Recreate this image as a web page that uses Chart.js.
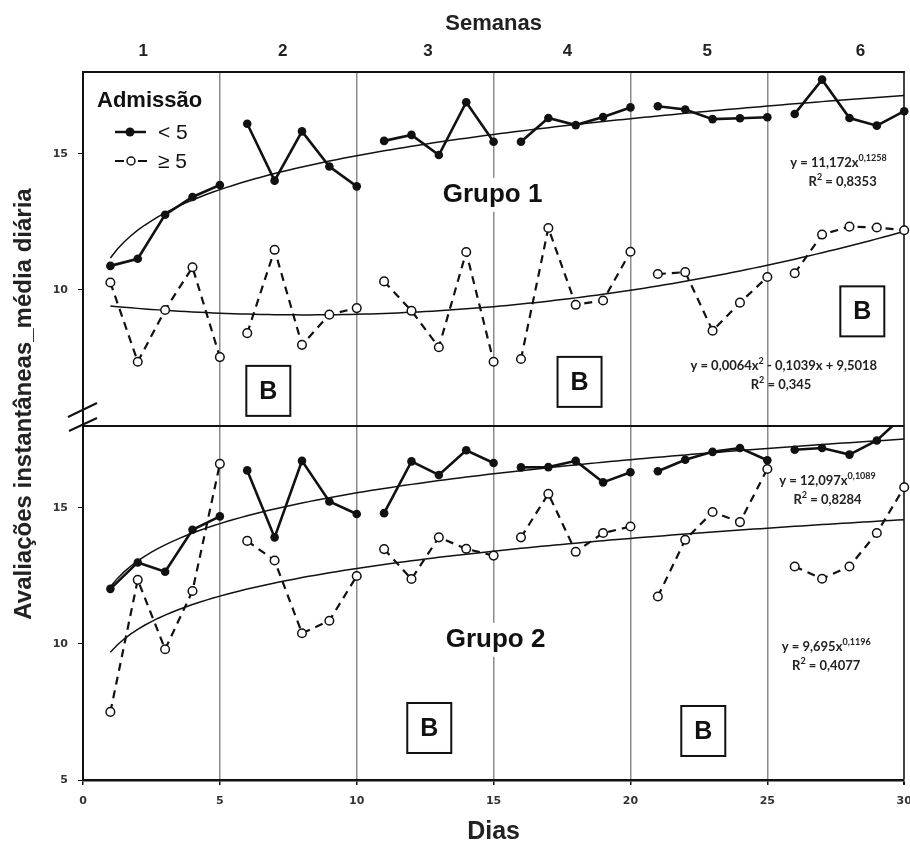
<!DOCTYPE html>
<html lang="pt">
<head>
<meta charset="utf-8">
<title>Avaliações instantâneas</title>
<script src="https://cdn.jsdelivr.net/npm/chart.js@4.4.1/dist/chart.umd.min.js"></script>
<style>
  html, body { margin: 0; padding: 0; background: #fff; }
  #wrap { position: relative; width: 910px; height: 851px; }
</style>
</head>
<body>
<div id="wrap"><canvas id="avaliacoesChart" width="910" height="851"></canvas></div>
<script>
// dias de internamento
const dias = [1, 2, 3, 4, 5, 6, 7, 8, 9, 10, 11, 12, 13, 14, 15,
              16, 17, 18, 19, 20, 21, 22, 23, 24, 25, 26, 27, 28, 29, 30];

// Grupo 1 - média diária por admissão
const g1Menor5 = [10.88, 11.14, 12.76, 13.41, 13.85, 16.10, 14.01, 15.82, 14.53, 13.80,
                  15.47, 15.69, 14.95, 16.89, 15.44, 15.44, 16.31, 16.05, 16.35, 16.70,
                  16.74, 16.62, 16.27, 16.30, 16.34, 16.46, 17.72, 16.31, 16.03, 16.56];
const g1Maior5 = [10.27, 7.36, 9.26, 10.83, 7.53, 8.41, 11.47, 7.98, 9.09, 9.33,
                  10.31, 9.23, 7.89, 11.39, 7.36, 7.46, 12.27, 9.45, 9.61, 11.40,
                  10.58, 10.65, 8.50, 9.53, 10.47, 10.61, 12.03, 12.32, 12.29, 12.19];

// Grupo 2 - média diária por admissão
const g2Menor5 = [12.02, 12.99, 12.65, 14.19, 14.68, 16.37, 13.91, 16.72, 15.23, 14.77,
                  14.80, 16.70, 16.20, 17.11, 16.64, 16.48, 16.49, 16.72, 15.93, 16.30,
                  16.34, 16.76, 17.05, 17.19, 16.74, 17.13, 17.19, 16.95, 17.47, 18.40];
const g2Maior5 = [7.50, 12.35, 9.80, 11.94, 16.61, 13.78, 13.06, 10.39, 10.85, 12.49,
                  13.48, 12.38, 13.91, 13.49, 13.24, 13.91, 15.51, 13.38, 14.07, 14.31,
                  11.74, 13.82, 14.84, 14.47, 16.42, 12.84, 12.39, 12.84, 14.07, 15.75];

// linhas de tendência (potência: a*x^b, polinomial: a*x^2 + b*x + c)
const ajusteG1Menor5 = [11.172, 0.1258];
const ajusteG1Maior5 = [0.0064, -0.1039, 9.5018];
const ajusteG2Menor5 = [12.097, 0.1089];
const ajusteG2Maior5 = [9.695, 0.1196];
const r2 = [0.8353, 0.345, 0.8284, 0.4077];

// eixos
const semanas = ['1', '2', '3', '4', '5', '6'];
const semanasPos = [2.2, 7.3, 12.6, 17.7, 22.8, 28.4];
const ticksPainelTopo = [10, 15];
const ticksPainelBase = [5, 10, 15];

const ink = '#111';
const tickFont = { family: 'DejaVu Sans', weight: 'bold', size: 11 };
const sans = 'Liberation Sans, Arial, sans-serif';

const fmt = v => String(v).replace('.', ',');

function curvaPotencia(c) {
  const pts = [];
  for (let x = 1; x <= 30.001; x += 0.25) pts.push({ x: x, y: c[0] * Math.pow(x, c[1]) });
  return pts;
}
function curvaQuadratica(c) {
  const pts = [];
  for (let x = 1; x <= 30.001; x += 0.25) pts.push({ x: x, y: c[0] * x * x + c[1] * x + c[2] });
  return pts;
}

// sem ligação entre semanas (dia 5 -> 6, 10 -> 11, ...)
const quebraSemana = ctx => ctx.p0.parsed.x % 5 === 0 ? 'rgba(0,0,0,0)' : undefined;

function serie(valores, eixo, aberto) {
  return {
    data: valores.map((v, i) => ({ x: dias[i], y: v })),
    xAxisID: 'x',
    yAxisID: eixo,
    borderColor: ink,
    borderWidth: aberto ? 2.2 : 2.6,
    borderDash: aberto ? [8, 6] : [],
    pointRadius: 4.3,
    pointHoverRadius: 4.3,
    pointBackgroundColor: aberto ? '#fff' : ink,
    pointBorderColor: ink,
    pointBorderWidth: aberto ? 1.5 : 0,
    tension: 0,
    clip: false,
    segment: { borderColor: quebraSemana }
  };
}

function tendencia(pontos, eixo) {
  return {
    data: pontos,
    xAxisID: 'x',
    yAxisID: eixo,
    borderColor: ink,
    borderWidth: 1.5,
    pointRadius: 0,
    tension: 0,
    clip: false
  };
}

// recorta cada série ao seu painel
const recortePainel = {
  id: 'recortePainel',
  beforeDatasetDraw(chart, args) {
    const ys = args.meta.yScale;
    const a = chart.chartArea;
    chart.ctx.save();
    chart.ctx.beginPath();
    chart.ctx.rect(a.left - 10, ys.top, a.right - a.left + 20, ys.bottom - ys.top);
    chart.ctx.clip();
  },
  afterDatasetDraw(chart) {
    chart.ctx.restore();
  }
};

function textoEq(ctx, partes, cx, cy) {
  let w = 0;
  partes.forEach(p => {
    ctx.font = (p.sup ? 'bold 9px ' : 'bold 13px ') + 'Lato, sans-serif';
    p.w = ctx.measureText(p.t).width;
    w += p.w;
  });
  let x = cx - w / 2;
  ctx.textAlign = 'left';
  ctx.textBaseline = 'middle';
  partes.forEach(p => {
    ctx.font = (p.sup ? 'bold 9px ' : 'bold 13px ') + 'Lato, sans-serif';
    ctx.fillText(p.t, x, p.sup ? cy - 5 : cy);
    x += p.w;
  });
}

function caixaB(ctx, cx, cy) {
  ctx.fillStyle = '#fff';
  ctx.fillRect(cx - 22, cy - 25, 44, 50);
  ctx.strokeStyle = ink;
  ctx.lineWidth = 2;
  ctx.strokeRect(cx - 22, cy - 25, 44, 50);
  ctx.fillStyle = ink;
  ctx.font = 'bold 25px ' + sans;
  ctx.textAlign = 'center';
  ctx.textBaseline = 'middle';
  ctx.fillText('B', cx, cy + 1);
}

const anotacoes = {
  id: 'anotacoes',
  beforeDatasetsDraw(chart) {
    const { ctx, scales } = chart;
    const x = scales.x, yt = scales.yTopo, yb = scales.yBase;
    ctx.save();
    // divisão entre os painéis
    ctx.strokeStyle = ink;
    ctx.lineWidth = 2;
    ctx.beginPath();
    ctx.moveTo(chart.chartArea.left, yb.top);
    ctx.lineTo(chart.chartArea.right, yb.top);
    ctx.stroke();

    ctx.font = 'bold 26px ' + sans;
    ctx.textAlign = 'center';
    ctx.textBaseline = 'middle';
    [['Grupo 1', x.getPixelForValue(14.96), yt.getPixelForValue(13.49)],
     ['Grupo 2', x.getPixelForValue(15.07), yb.getPixelForValue(10.15)]].forEach(g => {
      const w = ctx.measureText(g[0]).width;
      ctx.fillStyle = '#fff';
      ctx.fillRect(g[1] - w / 2 - 3, g[2] - 17, w + 6, 34);
      ctx.fillStyle = ink;
      ctx.fillText(g[0], g[1], g[2]);
    });
    ctx.restore();
  },
  afterDraw(chart) {
    const { ctx, scales } = chart;
    const x = scales.x, yt = scales.yTopo, yb = scales.yBase;
    const a = chart.chartArea;
    ctx.save();

    // título do eixo y, centrado nos dois painéis
    ctx.translate(24, 404);
    ctx.rotate(-Math.PI / 2);
    ctx.font = 'bold 24px ' + sans;
    ctx.fillStyle = '#222';
    ctx.textAlign = 'center';
    ctx.textBaseline = 'middle';
    ctx.fillText('Avaliações instantâneas_média diária', 0, 0);
    ctx.setTransform(1, 0, 0, 1, 0, 0);

    // marca de quebra do eixo
    ctx.strokeStyle = ink;
    ctx.lineWidth = 2;
    ctx.beginPath();
    ctx.moveTo(a.left - 15, yb.top - 9); ctx.lineTo(a.left + 14, yb.top - 23);
    ctx.moveTo(a.left - 14, yb.top + 5); ctx.lineTo(a.left + 14, yb.top - 8);
    ctx.stroke();

    // legenda
    ctx.fillStyle = ink;
    ctx.font = 'bold 22px ' + sans;
    ctx.textAlign = 'left';
    ctx.textBaseline = 'middle';
    ctx.fillText('Admissão', 97, 101);
    ctx.lineWidth = 2.5;
    ctx.beginPath(); ctx.moveTo(115, 132); ctx.lineTo(146, 132); ctx.stroke();
    ctx.beginPath(); ctx.arc(130, 132, 4.5, 0, Math.PI * 2); ctx.fill();
    ctx.lineWidth = 2;
    ctx.beginPath();
    ctx.moveTo(115, 161); ctx.lineTo(124, 161);
    ctx.moveTo(138, 161); ctx.lineTo(147, 161);
    ctx.stroke();
    ctx.fillStyle = '#fff';
    ctx.lineWidth = 1.5;
    ctx.beginPath(); ctx.arc(131, 161, 4, 0, Math.PI * 2); ctx.fill(); ctx.stroke();
    ctx.fillStyle = ink;
    ctx.font = '21px ' + sans;
    ctx.fillText('< 5', 158, 133);
    ctx.fillText('\u2265 5', 158, 162);

    // caixas B
    caixaB(ctx, x.getPixelForValue(6.77), yt.getPixelForValue(6.29));
    caixaB(ctx, x.getPixelForValue(18.14), yt.getPixelForValue(6.62));
    caixaB(ctx, x.getPixelForValue(28.47), yt.getPixelForValue(9.21));
    caixaB(ctx, x.getPixelForValue(12.65), yb.getPixelForValue(6.91));
    caixaB(ctx, x.getPixelForValue(22.66), yb.getPixelForValue(6.80));

    // equações das linhas de tendência
    ctx.fillStyle = '#222';
    const pot = c => [{ t: 'y = ' + fmt(c[0]) + 'x' }, { t: fmt(c[1]), sup: true }];
    const rq = v => [{ t: 'R' }, { t: '2', sup: true }, { t: ' = ' + fmt(v) }];
    textoEq(ctx, pot(ajusteG1Menor5), x.getPixelForValue(27.6), yt.getPixelForValue(14.67));
    textoEq(ctx, rq(r2[0]), x.getPixelForValue(27.75), yt.getPixelForValue(13.97));
    textoEq(ctx, [{ t: 'y = ' + fmt(ajusteG1Maior5[0]) + 'x' }, { t: '2', sup: true },
                  { t: ' - ' + fmt(Math.abs(ajusteG1Maior5[1])) + 'x + ' + fmt(ajusteG1Maior5[2]) }],
            x.getPixelForValue(25.6), yt.getPixelForValue(7.21));
    textoEq(ctx, rq(r2[1]), x.getPixelForValue(25.5), yt.getPixelForValue(6.51));
    textoEq(ctx, pot(ajusteG2Menor5), x.getPixelForValue(27.2), yb.getPixelForValue(15.99));
    textoEq(ctx, rq(r2[2]), x.getPixelForValue(27.2), yb.getPixelForValue(15.29));
    textoEq(ctx, pot(ajusteG2Maior5), x.getPixelForValue(27.15), yb.getPixelForValue(9.89));
    textoEq(ctx, rq(r2[3]), x.getPixelForValue(27.15), yb.getPixelForValue(9.19));

    ctx.restore();
  }
};

const ctx = document.getElementById('avaliacoesChart').getContext('2d');
new Chart(ctx, {
  type: 'line',
  data: {
    datasets: [
      serie(g1Menor5, 'yTopo', false),
      serie(g1Maior5, 'yTopo', true),
      serie(g2Menor5, 'yBase', false),
      serie(g2Maior5, 'yBase', true),
      tendencia(curvaPotencia(ajusteG1Menor5), 'yTopo'),
      tendencia(curvaQuadratica(ajusteG1Maior5), 'yTopo'),
      tendencia(curvaPotencia(ajusteG2Menor5), 'yBase'),
      tendencia(curvaPotencia(ajusteG2Maior5), 'yBase')
    ]
  },
  options: {
    responsive: false,
    animation: false,
    events: [],
    layout: { padding: { left: 0, right: 5, top: 0, bottom: 0 } },
    plugins: { legend: { display: false }, tooltip: { enabled: false } },
    scales: {
      x: {
        type: 'linear',
        position: 'bottom',
        min: 0,
        max: 30,
        // o rótulo "30" pode encostar na borda do canvas
        afterFit: s => { s.height = 71; s.paddingRight = 0; s.paddingLeft = 0; },
        ticks: { stepSize: 5, font: tickFont, color: '#333', padding: 10 },
        grid: {
          color: c => c.tick.value === 0 ? 'rgba(0,0,0,0)' : (c.tick.value === 30 ? '#444' : '#8c8c8c'),
          lineWidth: c => c.tick.value === 30 ? 2 : 1.5,
          tickColor: ink,
          tickLength: 5
        },
        border: { color: ink, width: 2.5 },
        title: {
          display: true,
          text: 'Dias',
          color: '#222',
          font: { family: sans, weight: 'bold', size: 25 },
          padding: { top: 0, bottom: 4 }
        }
      },
      x2: {
        type: 'linear',
        position: 'top',
        min: 0,
        max: 30,
        afterBuildTicks: s => { s.ticks = semanasPos.map(v => ({ value: v })); },
        afterFit: s => { s.height = 72; s.paddingRight = 0; s.paddingLeft = 0; },
        ticks: {
          callback: (v, i) => semanas[i],
          autoSkip: false,
          maxRotation: 0,
          color: '#222',
          font: { family: sans, weight: 'bold', size: 17 },
          padding: 10
        },
        grid: { display: false, drawTicks: false },
        border: { display: true, color: ink, width: 2 },
        title: {
          display: true,
          text: 'Semanas',
          color: '#222',
          font: { family: sans, weight: 'bold', size: 22 },
          padding: { top: 11, bottom: 0 }
        }
      },
      yBase: {
        type: 'linear',
        position: 'left',
        stack: 'paineis',
        stackWeight: 1,
        min: 5,
        max: 18,
        afterBuildTicks: s => { s.ticks = ticksPainelBase.map(v => ({ value: v })); },
        afterFit: s => { s.width = 83; },
        ticks: { font: tickFont, color: '#333', padding: 10 },
        grid: { drawOnChartArea: false, color: ink, tickLength: 5 },
        border: { color: ink, width: 2 }
      },
      yTopo: {
        type: 'linear',
        position: 'left',
        stack: 'paineis',
        stackWeight: 1,
        min: 5,
        max: 18,
        afterBuildTicks: s => { s.ticks = ticksPainelTopo.map(v => ({ value: v })); },
        afterFit: s => { s.width = 83; },
        ticks: { font: tickFont, color: '#333', padding: 10 },
        grid: { drawOnChartArea: false, color: ink, tickLength: 5 },
        border: { color: ink, width: 2 }
      }
    }
  },
  plugins: [recortePainel, anotacoes]
});
</script>
</body>
</html>
